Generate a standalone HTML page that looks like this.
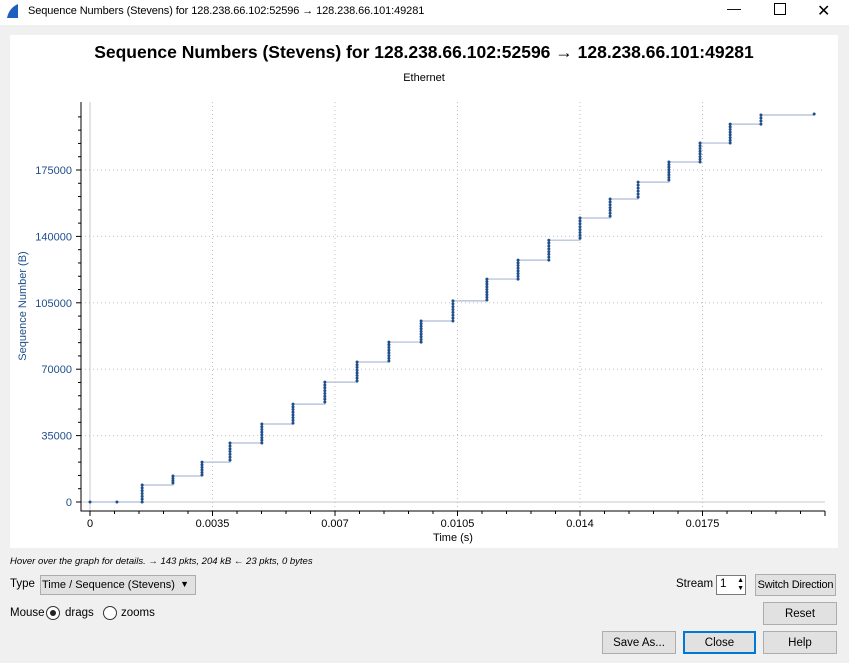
<!DOCTYPE html>
<html><head><meta charset="utf-8"><style>
body{margin:0;width:849px;height:663px;background:#f0f0f0;font-family:"Liberation Sans",sans-serif;position:relative;overflow:hidden}
.abs{position:absolute}
.btn{position:absolute;background:#e1e1e1;border:1px solid #adadad;font-size:11.5px;text-align:center;box-sizing:border-box;color:#000;white-space:nowrap}
</style></head><body>
<div class="abs" style="left:0;top:0;width:849px;height:25px;background:#fff">
 <svg class="abs" style="left:5px;top:3px" width="14" height="16"><path d="M2 15 L13 15 L13 1 Q4 5 2 15Z" fill="#1f5fbf"/></svg>
 <div class="abs" style="left:28px;top:5px;font-size:11px;letter-spacing:-0.1px">Sequence Numbers (Stevens) for 128.238.66.102:52596 → 128.238.66.101:49281</div>
 <div class="abs" style="left:727px;top:0;font-size:14px">—</div>
 <div class="abs" style="left:774px;top:3px;width:10px;height:10px;border:1px solid #000"></div>
 <div class="abs" style="left:817px;top:1px;font-size:16px">✕</div>
</div>
<div class="abs" style="left:10px;top:35px;width:828px;height:513px;background:#fff"></div>
<div class="abs" style="left:10px;top:42px;width:828px;text-align:center;font-size:17.5px;font-weight:bold">Sequence Numbers (Stevens) for 128.238.66.102:52596 → 128.238.66.101:49281</div>
<div class="abs" style="left:10px;top:72px;width:828px;text-align:center;font-size:11px">Ethernet</div>
<svg id="chart" class="abs" style="left:0;top:0" width="849" height="560"></svg>
<div class="abs" style="left:10px;top:556px;font-size:9.5px;font-style:italic">Hover over the graph for details. → 143 pkts, 204 kB ← 23 pkts, 0 bytes</div>
<div class="abs" style="left:10px;top:578px;font-size:11.5px">Type</div>
<div class="btn" style="left:40px;top:575px;width:156px;height:20px;text-align:left;padding:3px 0 0 1px;font-size:11px">Time / Sequence (Stevens)<span style="position:absolute;right:6px;top:3px;font-size:9px">▼</span></div>
<div class="abs" style="left:676px;top:578px;font-size:11.5px">Stream</div>
<div class="abs" style="left:716px;top:575px;width:30px;height:20px;background:#fff;border:1px solid #7a7a7a;box-sizing:border-box;font-size:11.5px;padding:2px 0 0 3px">1<span style="position:absolute;right:1px;top:1px;font-size:7px;line-height:8px">▲<br>▼</span></div>
<div class="btn" style="left:755px;top:574px;width:81px;height:22px;padding-top:4px;font-size:11px;letter-spacing:-0.2px">Switch Direction</div>
<div class="abs" style="left:10px;top:607px;font-size:11.5px">Mouse</div>
<div class="abs" style="left:46px;top:606px;width:12px;height:12px;border:1px solid #333;border-radius:50%;background:#fff"><div style="margin:3px;width:6px;height:6px;border-radius:50%;background:#222"></div></div>
<div class="abs" style="left:65px;top:607px;font-size:11.5px">drags</div>
<div class="abs" style="left:103px;top:606px;width:12px;height:12px;border:1px solid #333;border-radius:50%;background:#fff"></div>
<div class="abs" style="left:121px;top:607px;font-size:11.5px">zooms</div>
<div class="btn" style="left:763px;top:602px;width:74px;height:23px;padding-top:5px">Reset</div>
<div class="btn" style="left:602px;top:631px;width:74px;height:23px;padding-top:5px">Save As...</div>
<div class="btn" style="left:683px;top:631px;width:73px;height:23px;padding-top:4px;border:2px solid #0078d7">Close</div>
<div class="btn" style="left:763px;top:631px;width:74px;height:23px;padding-top:5px">Help</div>
<script>
const burstTimeMs=[0,0.77,1.49,2.37,3.2,4.0,4.91,5.8,6.71,7.63,8.54,9.46,10.37,11.34,12.23,13.11,14.0,14.86,15.66,16.54,17.43,18.29,19.17,20.69];
const burstStart=[0,0,0,10000,14200,22100,31100,41600,52700,63800,74300,84300,95400,106500,117500,127500,139000,150700,160700,169700,179200,189200,199200,204500];
const burstEnd=[0,0,8960,13700,21000,31100,41100,51600,63200,73800,84300,95400,106000,117500,127500,138000,149700,159700,168600,179200,189200,199200,204000,204500];
const xTicks=[0,0.0035,0.007,0.0105,0.014,0.0175];
const xTickLabels=["0","0.0035","0.007","0.0105","0.014","0.0175"];
const yTicks=[0,35000,70000,105000,140000,175000];
const yTickLabels=["0","35000","70000","105000","140000","175000"];
const NS="http://www.w3.org/2000/svg";
const svg=document.getElementById('chart');
const X=t=>90+t*35000;
const Y=v=>502-v*66.4/35000;
const L=81,R=825,T=102,B=511;
function mk(tag,attrs,parent){const e=document.createElementNS(NS,tag);for(const k in attrs)e.setAttribute(k,attrs[k]);(parent||svg).appendChild(e);return e;}
xTicks.forEach((t,i)=>{const g=mk('line',{x1:X(t),x2:X(t),y1:T,y2:B,stroke:i==0?'#c8c8c8':'#c0c0c0','stroke-dasharray':i==0?'':'1,3'});

});
yTicks.forEach((v,i)=>{const g=mk('line',{x1:L,x2:R,y1:Y(v),y2:Y(v),stroke:i==0?'#c8c8c8':'#c0c0c0','stroke-dasharray':i==0?'':'1,3'});

});
const ax=mk('path',{d:`M${L} ${T}V${B}H${R}`,stroke:'#000',fill:'none','stroke-width':1});


for(let v=0;v<=205000;v+=7000){const y=Y(v);if(y<T)break;mk('line',{x1:L-(v%35000==0?5:3),x2:L,y1:y,y2:y,stroke:'#000'});}
for(let t=0;t<=0.0211;t+=0.0007){const x=X(t);mk('line',{x1:x,x2:x,y1:B,y2:B+(Math.abs(t/0.0035-Math.round(t/0.0035))<1e-6?5:3),stroke:'#000'});}
xTicks.forEach((t,i)=>{const e=mk('text',{x:X(t),y:B+16,'text-anchor':'middle','font-size':11,fill:'#000','font-family':'Liberation Sans'});e.textContent=xTickLabels[i];

});
yTicks.forEach((v,i)=>{const e=mk('text',{x:L-9,y:Y(v)+4,'text-anchor':'end','font-size':11,fill:'#1f4e8c','font-family':'Liberation Sans'});e.textContent=yTickLabels[i];

});
const xt=mk('text',{x:453,y:541,'text-anchor':'middle','font-size':11,'font-family':'Liberation Sans'});xt.textContent='Time (s)';


const yt=mk('text',{x:26,y:306,'text-anchor':'middle','font-size':11,fill:'#1f4e8c','font-family':'Liberation Sans',transform:'rotate(-90 26 306)'});yt.textContent='Sequence Number (B)';


let d='';let prev=null;
burstTimeMs.forEach((tm,i)=>{const x=X(tm/1000);if(prev===null)d+=`M${x} ${Y(burstStart[i])}`;else d+=`H${x}V${Y(burstStart[i])}`;d+=`V${Y(burstEnd[i])}`;prev=i;});
const sl=mk('path',{d:d,stroke:'#aebbd6',fill:'none','stroke-width':1.2});


burstTimeMs.forEach((tm,i)=>{const x=X(tm/1000);const n=Math.max(1,Math.round((burstEnd[i]-burstStart[i])/1448)+1);
for(let k=0;k<n;k++){const v=n==1?burstStart[i]:burstStart[i]+(burstEnd[i]-burstStart[i])*k/(n-1);
const c=mk('circle',{cx:x,cy:Y(v),r:1.5,fill:'#1f4e8c'});

}});
</script>
</body></html>
